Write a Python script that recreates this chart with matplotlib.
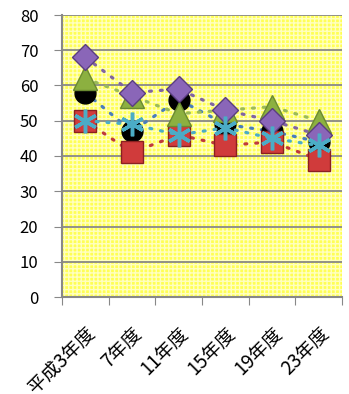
import matplotlib.pyplot as plt
import matplotlib.transforms as mtransforms
from matplotlib.patches import Rectangle

plt.rcParams['font.family'] = ['Noto Sans CJK JP', 'DejaVu Sans']

years = ['平成3年度', '7年度', '11年度', '15年度', '19年度', '23年度']
s_black = [58, 47, 56, 49, 47, 44]
s_red = [50, 41, 46, 43, 44, 39]
s_green = [62, 57, 52, 53, 54, 50]
s_purple = [68, 58, 59, 53, 50, 46]
s_cyan = [50, 49, 46, 48, 45, 43]

fig = plt.figure(figsize=(3.49, 3.94), dpi=100)
ax = fig.add_axes([62/349, 97/394, 280/349, 282/394])

ax.set_facecolor('#ffff55')
ax.add_patch(Rectangle((0, 0), 1, 1, transform=ax.transAxes, facecolor='none',
                       edgecolor='#ffffc0', hatch='++++', lw=0, zorder=0))

x = range(len(years))
ax.set_xlim(-0.5, len(years) - 0.5)
ax.set_ylim(0, 80)
ax.set_yticks(range(0, 81, 10))
ax.set_xticks([i - 0.5 for i in range(len(years) + 1)], minor=False)
ax.set_xticklabels([])
ax.set_xticks(list(x), minor=True)
ax.set_xticklabels(years, minor=True, rotation=45, ha='right', va='top',
                   rotation_mode='anchor', fontsize=13.5)
# nudge the category labels a little to the right
shift = mtransforms.ScaledTranslation(6/100, 0, fig.dpi_scale_trans)
for lbl in ax.get_xticklabels(minor=True):
    lbl.set_transform(lbl.get_transform() + shift)
ax.tick_params(axis='x', which='minor', length=0, pad=19)
ax.tick_params(axis='x', which='major', length=6, color='#888888')
ax.tick_params(axis='y', length=6, color='#888888', labelsize=12, pad=11)
ax.yaxis.grid(True, color='#888888', lw=1.3)
ax.set_axisbelow(True)
for side in ['top', 'right']:
    ax.spines[side].set_visible(False)
for side in ['left', 'bottom']:
    ax.spines[side].set_color('#888888')
    ax.spines[side].set_linewidth(1.5)

dot = dict(ls=(0, (0.6, 2.8)), lw=2.3, dash_capstyle='round')
ax.plot(x, s_black, color='#4a7ebb', marker='o', ms=15, mfc='black', mec='black', **dot)
ax.plot(x, s_red, color='#c0393b', marker='s', ms=16, mfc='#d03b3b', mec='#8a2020', **dot)
ax.plot(x, s_green, color='#9bbb59', marker='^', ms=17, mfc='#8cb040', mec='#6a8a30', **dot)
ax.plot(x, s_purple, color='#8064a2', marker='D', ms=13, mfc='#8a66b8', mec='#5a3d80', **dot)
ax.plot(x, s_cyan, color='#4bacc6', marker=(6, 2, 0), ms=17, mfc='#4bacc6', mec='#4bacc6', mew=2.5, **dot)

fig.savefig('out.png', dpi=100)
